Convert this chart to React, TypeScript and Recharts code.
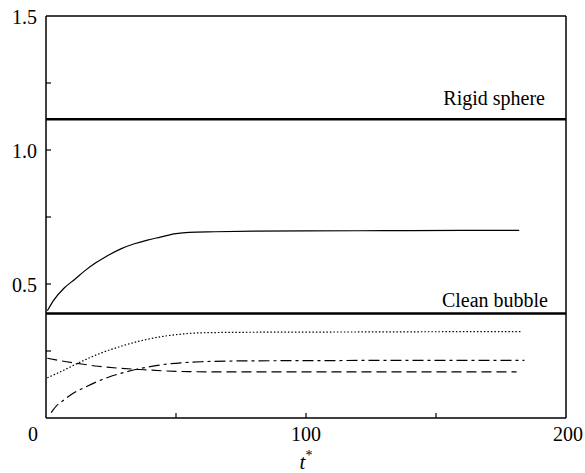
import { LineChart, Line, XAxis, YAxis, ReferenceLine } from 'recharts';

// t* values and curve values
const solidT = [0.5, 3, 7, 11, 15, 19, 23, 29, 34, 39, 44, 50, 55, 65, 80, 100, 130, 160, 182];
const solidV = [0.40, 0.44, 0.485, 0.517, 0.55, 0.578, 0.602, 0.632, 0.65, 0.664, 0.675, 0.688, 0.693, 0.695, 0.697, 0.698, 0.699, 0.70, 0.70];

const dottedT = [0.5, 5, 12, 20, 28, 36, 44, 52, 60, 80, 120, 160, 183];
const dottedV = [0.15, 0.17, 0.203, 0.238, 0.265, 0.287, 0.303, 0.313, 0.318, 0.32, 0.321, 0.322, 0.322];

const dashedT = [0.5, 6, 12, 20, 28, 36, 45, 55, 70, 100, 140, 181];
const dashedV = [0.223, 0.213, 0.204, 0.193, 0.186, 0.181, 0.176, 0.173, 0.172, 0.172, 0.172, 0.172];

const dashDotT = [2, 4, 7, 10, 14, 19, 24, 30, 36, 44, 52, 60, 75, 100, 140, 184];
const dashDotV = [0.02, 0.045, 0.068, 0.09, 0.11, 0.133, 0.152, 0.17, 0.184, 0.198, 0.206, 0.21, 0.213, 0.214, 0.215, 0.215];

const rigidSphere = 1.115;
const cleanBubble = 0.39;

const xTicks = [0, 50, 100, 150, 200];
const xLabels = [0, 100, 200];
const yTicks = [0, 0.25, 0.5, 0.75, 1.0, 1.25, 1.5];
const yLabels = [0.5, 1.0, 1.5];

const textStyle = { fontFamily: "'Liberation Serif', 'DejaVu Serif', serif" };

const toPoints = (t: number[], v: number[]) => t.map((x, i) => ({ t: x, v: v[i] }));

const BottomTick = (props: any) => {
  const { x, y, payload } = props;
  const v = payload.value;
  const dx = v === 0 ? -13 : v === 200 ? 2 : 0;
  return (
    <g>
      {v > 0 && v < 200 && <line x1={x} y1={y} x2={x} y2={y - 5} stroke="#000" strokeWidth={1.2} />}
      {xLabels.includes(v) && (
        <text x={x + dx} y={y + 23} textAnchor="middle" style={textStyle} fontSize={20} fill="#000">
          {v}
        </text>
      )}
    </g>
  );
};

const LeftTick = (props: any) => {
  const { x, y, payload } = props;
  const v = payload.value;
  return (
    <g>
      {v > 0 && v < 1.5 && <line x1={x} y1={y} x2={x + 5} y2={y} stroke="#000" strokeWidth={1.2} />}
      {yLabels.includes(v) && (
        <text x={x - 9} y={y + 8} textAnchor="end" style={textStyle} fontSize={20} fill="#000">
          {v.toFixed(1)}
        </text>
      )}
    </g>
  );
};

const RightTick = (props: any) => {
  const { x, y, payload } = props;
  const v = payload.value;
  if (v <= 0 || v >= 1.5) return <g />;
  return <line x1={x} y1={y} x2={x - 5} y2={y} stroke="#000" strokeWidth={1.2} />;
};

const LineLabel = (props: any) => {
  const { viewBox, text, rightPad, lift } = props;
  return (
    <text
      x={viewBox.x + viewBox.width - rightPad}
      y={viewBox.y - lift}
      textAnchor="end"
      style={textStyle}
      fontSize={20}
      fill="#000"
    >
      {text}
    </text>
  );
};

const XTitle = (props: any) => {
  const { viewBox } = props;
  return (
    <text x={viewBox.x + viewBox.width / 2} y={viewBox.y + 51} textAnchor="middle" style={textStyle} fontSize={21} fill="#000">
      <tspan fontStyle="italic">t</tspan>
      <tspan fontSize={14} dy={-9}>*</tspan>
    </text>
  );
};

export default function App() {
  return (
    <div style={{ position: 'absolute', left: 0, top: 0, background: '#fff', ...textStyle }}>
      <LineChart width={585} height={473} margin={{ top: 0, right: 0, bottom: 0, left: 0 }}>
        <XAxis
          dataKey="t"
          type="number"
          domain={[0, 200]}
          ticks={xTicks}
          interval={0}
          tickSize={0}
          tickMargin={0}
          height={55}
          tick={<BottomTick />}
          axisLine={{ stroke: '#000', strokeWidth: 1.5 }}
          label={<XTitle />}
        />
        <XAxis
          xAxisId="top"
          orientation="top"
          type="number"
          domain={[0, 200]}
          height={16}
          tick={false}
          tickLine={false}
          axisLine={{ stroke: '#000', strokeWidth: 1.5 }}
        />
        <YAxis
          type="number"
          domain={[0, 1.5]}
          ticks={yTicks}
          interval={0}
          tickSize={0}
          tickMargin={0}
          width={46}
          tick={<LeftTick />}
          axisLine={{ stroke: '#000', strokeWidth: 1.5 }}
        />
        <YAxis
          yAxisId="right"
          orientation="right"
          type="number"
          domain={[0, 1.5]}
          ticks={yTicks}
          interval={0}
          tickSize={0}
          tickMargin={0}
          width={19}
          tick={<RightTick />}
          axisLine={{ stroke: '#000', strokeWidth: 1.5 }}
        />
        <ReferenceLine
          y={rigidSphere}
          stroke="#000"
          strokeWidth={2.5}
          label={<LineLabel text="Rigid sphere" rightPad={21} lift={14} />}
        />
        <ReferenceLine
          y={cleanBubble}
          stroke="#000"
          strokeWidth={2.5}
          label={<LineLabel text="Clean bubble" rightPad={18} lift={6} />}
        />
        <Line data={toPoints(solidT, solidV)} dataKey="v" type="monotone" stroke="#000" strokeWidth={1.2} dot={false} isAnimationActive={false} />
        <Line data={toPoints(dottedT, dottedV)} dataKey="v" type="monotone" stroke="#000" strokeWidth={1.2} strokeDasharray="1.5 2" dot={false} isAnimationActive={false} />
        <Line data={toPoints(dashedT, dashedV)} dataKey="v" type="monotone" stroke="#000" strokeWidth={1.2} strokeDasharray="10 5" dot={false} isAnimationActive={false} />
        <Line data={toPoints(dashDotT, dashDotV)} dataKey="v" type="monotone" stroke="#000" strokeWidth={1.2} strokeDasharray="11 4 3 4" dot={false} isAnimationActive={false} />
      </LineChart>
    </div>
  );
}
